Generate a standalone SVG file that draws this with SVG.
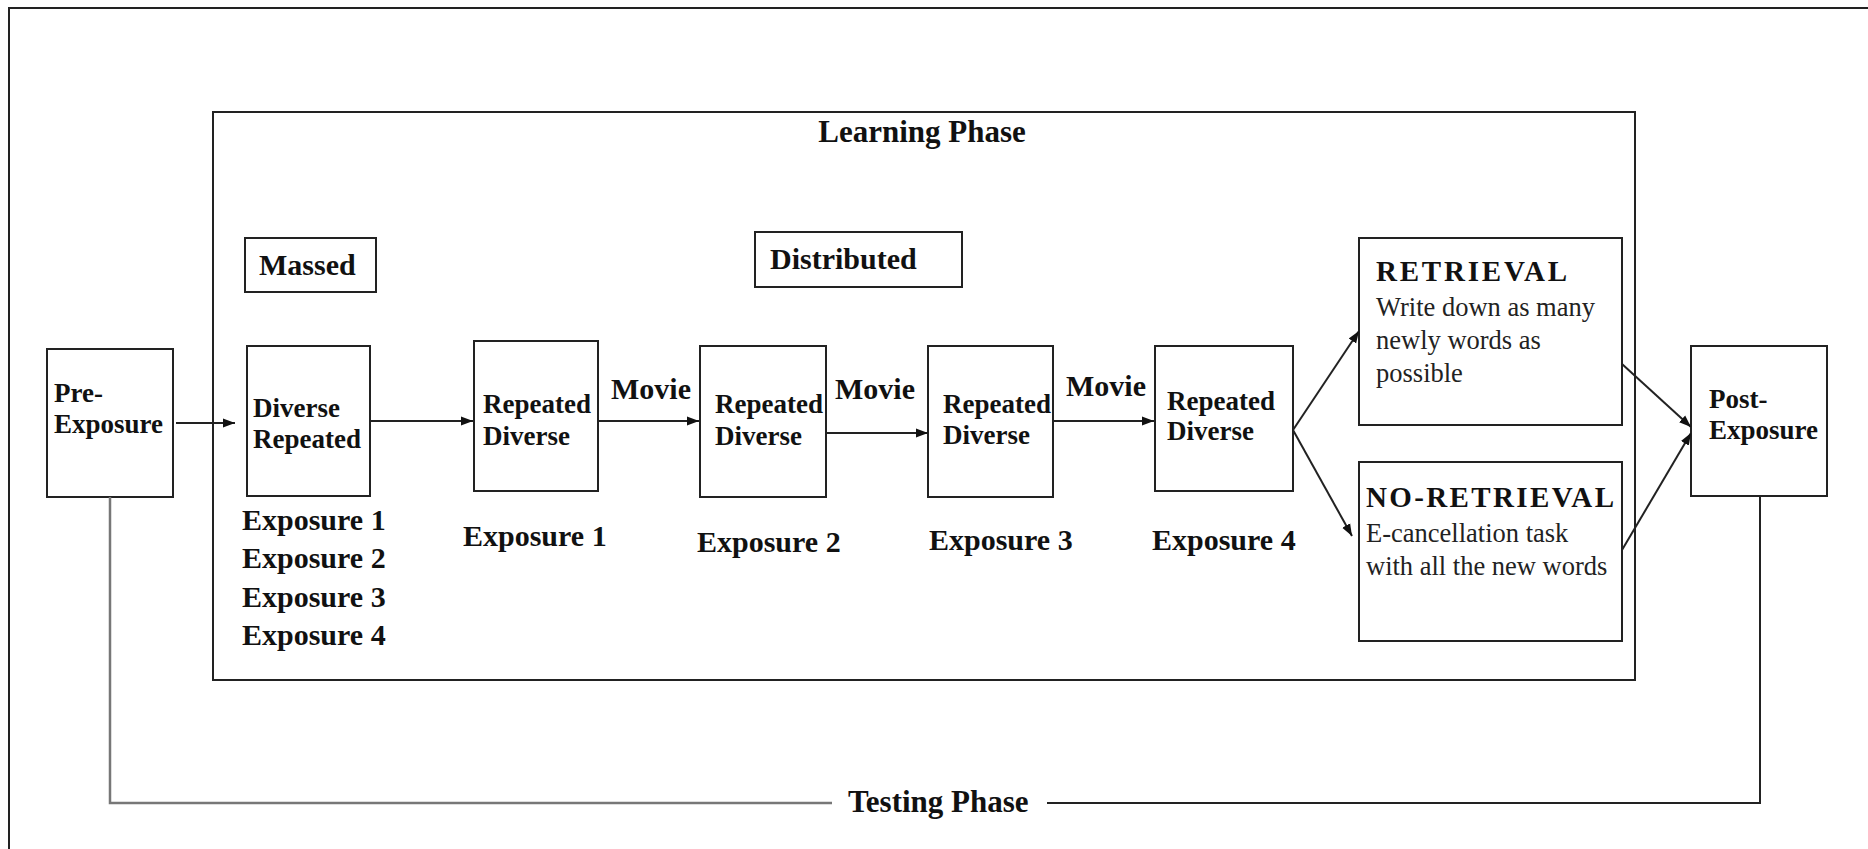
<svg xmlns="http://www.w3.org/2000/svg" width="1868" height="849" viewBox="0 0 1868 849">
<style>
.box{fill:#fff;stroke:#222;stroke-width:2}
.b{font-family:"Liberation Serif","Times New Roman",serif;font-weight:bold;fill:#111}
.r{font-family:"Liberation Serif","Times New Roman",serif;fill:#222}
.s27{font-size:27px}
.s30{font-size:30px}
.s31{font-size:31px}
.ln{fill:none;stroke:#222;stroke-width:2}
</style>
<defs>
<marker id="ah" markerUnits="userSpaceOnUse" markerWidth="13" markerHeight="10" refX="12" refY="5" orient="auto">
<path d="M0,0.5 L12,5 L0,9.5 z" fill="#111"/>
</marker>
</defs>
<rect x="9" y="8" width="1900" height="900" fill="#fff" stroke="#222" stroke-width="2"/>
<g id="learning-phase">
<rect class="box" x="213" y="112" width="1422" height="568"/>
<text class="b s31" x="922" y="142" text-anchor="middle">Learning Phase</text>
</g>
<g id="massed">
<rect class="box" x="245" y="238" width="131" height="54"/>
<text class="b s30" x="259" y="275">Massed</text>
</g>
<g id="distributed">
<rect class="box" x="755" y="232" width="207" height="55"/>
<text class="b s30" x="770" y="269">Distributed</text>
</g>
<g id="pre-exposure">
<rect class="box" x="47" y="349" width="126" height="148"/>
<text class="b s27" x="54" y="402">Pre-</text>
<text class="b s27" x="54" y="433">Exposure</text>
</g>
<g id="massed-box">
<rect class="box" x="247" y="346" width="123" height="150"/>
<text class="b s27" x="253" y="417">Diverse</text>
<text class="b s27" x="253" y="448">Repeated</text>
<text class="b s30" x="242" y="530">Exposure 1</text>
<text class="b s30" x="242" y="568">Exposure 2</text>
<text class="b s30" x="242" y="607">Exposure 3</text>
<text class="b s30" x="242" y="645">Exposure 4</text>
</g>
<g id="dist-e1">
<rect class="box" x="474" y="341" width="124" height="150"/>
<text class="b s27" x="483" y="413">Repeated</text>
<text class="b s27" x="483" y="445">Diverse</text>
<text class="b s30" x="463" y="546">Exposure 1</text>
</g>
<g id="dist-e2">
<rect class="box" x="700" y="346" width="126" height="151"/>
<text class="b s27" x="715" y="413">Repeated</text>
<text class="b s27" x="715" y="445">Diverse</text>
<text class="b s30" x="697" y="552">Exposure 2</text>
</g>
<g id="dist-e3">
<rect class="box" x="928" y="346" width="125" height="151"/>
<text class="b s27" x="943" y="413">Repeated</text>
<text class="b s27" x="943" y="444">Diverse</text>
<text class="b s30" x="929" y="550">Exposure 3</text>
</g>
<g id="dist-e4">
<rect class="box" x="1155" y="346" width="138" height="145"/>
<text class="b s27" x="1167" y="410">Repeated</text>
<text class="b s27" x="1167" y="440">Diverse</text>
<text class="b s30" x="1152" y="550">Exposure 4</text>
</g>
<g id="retrieval">
<rect class="box" x="1359" y="238" width="263" height="187"/>
<text class="b" font-size="29" x="1376" y="281" textLength="191" lengthAdjust="spacing">RETRIEVAL</text>
<text class="r" font-size="26.5" x="1376" y="316">Write down as many</text>
<text class="r" font-size="26.5" x="1376" y="349">newly words as</text>
<text class="r" font-size="26.5" x="1376" y="382">possible</text>
</g>
<g id="no-retrieval">
<rect class="box" x="1359" y="462" width="263" height="179"/>
<text class="b" font-size="29" x="1366" y="507" textLength="248" lengthAdjust="spacing">NO-RETRIEVAL</text>
<text class="r" font-size="26.5" x="1366" y="542">E-cancellation task</text>
<text class="r" font-size="26.5" x="1366" y="575">with all the new words</text>
</g>
<g id="post-exposure">
<rect class="box" x="1691" y="346" width="136" height="150"/>
<text class="b s27" x="1709" y="408">Post-</text>
<text class="b s27" x="1709" y="439">Exposure</text>
</g>
<g id="connectors">
<line class="ln" x1="176" y1="423" x2="235" y2="423" marker-end="url(#ah)"/>
<line class="ln" x1="370" y1="421" x2="473" y2="421" marker-end="url(#ah)"/>
<line class="ln" x1="598" y1="421" x2="699" y2="421" marker-end="url(#ah)"/>
<line class="ln" x1="826" y1="433" x2="928" y2="433" marker-end="url(#ah)"/>
<line class="ln" x1="1053" y1="421" x2="1154" y2="421" marker-end="url(#ah)"/>
<line class="ln" x1="1293" y1="430" x2="1359" y2="331" marker-end="url(#ah)"/>
<line class="ln" x1="1293" y1="430" x2="1352" y2="536" marker-end="url(#ah)"/>
<line class="ln" x1="1622" y1="364" x2="1691" y2="427" marker-end="url(#ah)"/>
<line class="ln" x1="1622" y1="550" x2="1691" y2="433" marker-end="url(#ah)"/>
<text class="b s30" x="611" y="399">Movie</text>
<text class="b s30" x="835" y="399">Movie</text>
<text class="b s30" x="1066" y="396">Movie</text>
<path d="M110,497 V803 H832" fill="none" stroke="#777" stroke-width="2.5"/>
<path d="M1047,803 H1760 V496" class="ln"/>
<text class="b s31" x="848" y="812">Testing Phase</text>
</g>
</svg>
